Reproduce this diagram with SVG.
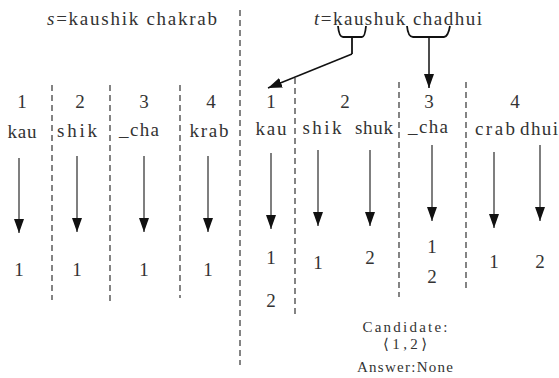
<svg xmlns="http://www.w3.org/2000/svg" width="559" height="378" viewBox="0 0 559 378">
<style>
text{font-family:"Liberation Serif","DejaVu Serif",serif;font-size:19px;fill:#333;text-anchor:middle}
.sm{font-size:15px}
.dash{stroke:#333;stroke-width:1.2;stroke-dasharray:6 4;fill:none}
.arr{stroke:#555;stroke-width:1.5;fill:none;marker-end:url(#ah)}
.br{stroke:#111;stroke-width:1.8;fill:none}
</style>
<defs>
<marker id="ah" markerUnits="userSpaceOnUse" markerWidth="14" markerHeight="10" refX="14" refY="5" orient="auto"><path d="M0,0 L14,5 L0,10 z" fill="#111"/></marker>
</defs>
<g id="titles">
<text x="132" y="25" textLength="170"><tspan font-style="italic">s</tspan>=kaushik chakrab</text>
<text x="398" y="25" textLength="168"><tspan font-style="italic">t</tspan>=kaushuk chadhui</text>
</g>
<g id="dividers">
<line class="dash" x1="240" y1="10" x2="240" y2="365"/>
<line class="dash" x1="52" y1="85" x2="52" y2="300"/>
<line class="dash" x1="110" y1="85" x2="110" y2="302"/>
<line class="dash" x1="180" y1="85" x2="180" y2="298"/>
<line class="dash" x1="295" y1="78" x2="295" y2="317"/>
<line class="dash" x1="399" y1="82" x2="399" y2="297"/>
<line class="dash" x1="466" y1="82" x2="466" y2="288"/>
</g>
<g id="braces">
<path class="br" d="M338,26 Q339,37 343,37 L362,37 Q365,37 366,26"/>
<path class="br" d="M407,26 Q408,37 413,37 L444,37 Q448,37 450,26"/>
</g>
<g id="connectors">
<path class="br" d="M352,37 L352,54"/>
<line class="arr" x1="352" y1="54" x2="268" y2="88" style="stroke:#111"/>
<line class="arr" x1="429" y1="37" x2="429" y2="88" style="stroke:#111"/>
<line class="arr" x1="19" y1="158" x2="19" y2="233"/>
<line class="arr" x1="77" y1="156" x2="77" y2="232"/>
<line class="arr" x1="144" y1="156" x2="144" y2="232"/>
<line class="arr" x1="208" y1="156" x2="208" y2="232"/>
<line class="arr" x1="271" y1="153" x2="271" y2="229"/>
<line class="arr" x1="318" y1="150" x2="318" y2="226"/>
<line class="arr" x1="370" y1="150" x2="370" y2="226"/>
<line class="arr" x1="432" y1="145" x2="432" y2="221"/>
<line class="arr" x1="494" y1="152" x2="494" y2="228"/>
<line class="arr" x1="540" y1="145" x2="540" y2="221"/>
</g>
<g id="s-seg1"><text x="22" y="108">1</text><text x="22" y="138" textLength="29">kau</text><text x="19" y="276">1</text></g>
<g id="s-seg2"><text x="80" y="108">2</text><text x="77" y="137" textLength="40">shik</text><text x="77" y="276">1</text></g>
<g id="s-seg3"><text x="144" y="108">3</text><text x="139" y="136" textLength="40">_cha</text><text x="144" y="276">1</text></g>
<g id="s-seg4"><text x="211" y="108">4</text><text x="209" y="137" textLength="39">krab</text><text x="208" y="276">1</text></g>
<g id="t-seg1"><text x="271" y="108">1</text><text x="271" y="135" textLength="31">kau</text><text x="271" y="264">1</text><text x="271" y="307">2</text></g>
<g id="t-seg2"><text x="345" y="108">2</text><text x="322" y="134" textLength="39">shik</text><text x="374" y="134" textLength="38">shuk</text><text x="318" y="269">1</text><text x="370" y="264">2</text></g>
<g id="t-seg3"><text x="429" y="108">3</text><text x="428" y="133" textLength="40">_cha</text><text x="432" y="253">1</text><text x="432" y="283">2</text></g>
<g id="t-seg4"><text x="515" y="108">4</text><text x="495" y="135" textLength="40">crab</text><text x="539" y="135" textLength="38">dhui</text><text x="494" y="268">1</text><text x="540" y="268">2</text></g>
<g id="result">
<text class="sm" x="405" y="332" textLength="85">Candidate:</text>
<text class="sm" x="405" y="349" textLength="44">⟨1,2⟩</text>
<text class="sm" x="405" y="372" textLength="96">Answer:None</text>
</g>
</svg>
